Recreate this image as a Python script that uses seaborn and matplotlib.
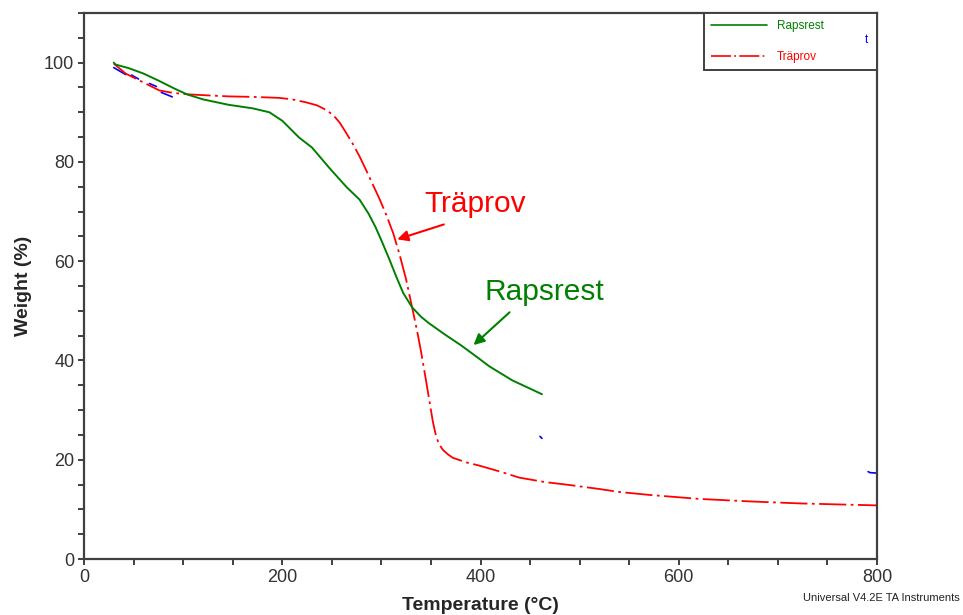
import numpy as np
import pandas as pd
import matplotlib
matplotlib.use("Agg")
import matplotlib.pyplot as plt
from matplotlib.ticker import MultipleLocator
from matplotlib.lines import Line2D
import seaborn as sns

# TGA curves: temperature (°C) vs residual weight (%)
rapsrest_temp = [30, 32, 45, 60, 75, 91, 104, 120, 146, 170, 187, 200, 207, 217, 230,
                 247, 265, 278, 287, 294, 300, 308, 315, 322, 331, 340, 348, 365, 380,
                 395, 409, 432, 447, 462]
rapsrest_weight = [100.0, 99.6, 98.9, 97.8, 96.4, 94.8, 93.6, 92.6, 91.5, 90.8, 90.0, 88.3,
                   86.9, 84.9, 82.9, 78.9, 74.9, 72.4, 69.6, 66.9, 64.2, 60.4, 56.9, 53.6,
                   50.7, 48.8, 47.5, 45.1, 43.1, 40.9, 38.8, 36.0, 34.6, 33.2]

traprov_temp = [30, 42, 60, 76, 90, 106, 125, 146, 170, 197, 210, 224, 235, 245, 252, 258,
                264, 271, 278, 284.5, 291, 298, 305, 312, 318, 325, 331, 336, 340, 345,
                349, 352, 355, 358, 362, 367, 372, 385, 399, 420, 439, 465, 490, 520,
                540, 571, 621, 672, 722, 760, 800]
traprov_weight = [99.8, 97.8, 96.0, 94.4, 93.9, 93.6, 93.4, 93.2, 93.1, 92.9, 92.6, 92.0,
                  91.4, 90.4, 89.3, 87.9, 86.0, 83.7, 81.1, 78.4, 75.6, 72.6, 69.3, 65.6,
                  61.6, 56.3, 50.7, 46.0, 41.8, 36.0, 31.2, 27.6, 24.9, 23.2, 22.0, 21.1,
                  20.4, 19.5, 18.8, 17.6, 16.4, 15.5, 14.9, 14.1, 13.5, 12.9, 12.1, 11.6,
                  11.2, 11.0, 10.8]

# third run: only short pieces of it remain visible
rest_piece = [1, 1, 2, 2, 3, 3, 4, 4, 5, 5, 6, 6, 6]
rest_temp = [30, 42, 48, 55, 66, 73, 78, 89, 460, 462, 791, 793, 800]
rest_weight = [99.0, 97.6, 97.5, 96.7, 95.8, 95.2, 94.0, 93.1, 24.7, 24.3, 17.6, 17.4, 17.3]

x_ticks = [0, 200, 400, 600, 800]
y_ticks = [0, 20, 40, 60, 80, 100]

GREEN = "#008000"
RED = "#ff0000"
BLUE = "#0000ff"
SPINE = "#404040"

sns.set_style("ticks")
plt.rcParams["font.family"] = ["Liberation Sans", "DejaVu Sans"]

fig = plt.figure(figsize=(9.63, 6.15), dpi=100)
ax = fig.add_axes([84 / 963, 56 / 615, 793 / 963, 546 / 615])

df_g = pd.DataFrame({"Temperature": rapsrest_temp, "Weight": rapsrest_weight})
df_r = pd.DataFrame({"Temperature": traprov_temp, "Weight": traprov_weight})
df_b = pd.DataFrame({"Temperature": rest_temp, "Weight": rest_weight, "piece": rest_piece})

dashdot = (0, (15, 2.5, 1.5, 2.5))
sns.lineplot(data=df_b, x="Temperature", y="Weight", units="piece", ax=ax, color=BLUE,
             lw=1.2, sort=False, estimator=None)
sns.lineplot(data=df_r, x="Temperature", y="Weight", ax=ax, color=RED, lw=1.3,
             linestyle=dashdot, sort=False, estimator=None)
sns.lineplot(data=df_g, x="Temperature", y="Weight", ax=ax, color=GREEN, lw=1.4,
             sort=False, estimator=None)

ax.set_xlim(0, 800)
ax.set_ylim(0, 110)
ax.set_xticks(x_ticks)
ax.set_yticks(y_ticks)
ax.xaxis.set_minor_locator(MultipleLocator(50))
ax.yaxis.set_minor_locator(MultipleLocator(5))
ax.tick_params(which="both", direction="out", length=4, width=1.4, color=SPINE,
               labelsize=13, labelcolor="#333333", pad=3)
for s in ax.spines.values():
    s.set_visible(True)
    s.set_color(SPINE)
    s.set_linewidth(1.6)

ax.set_xlabel("Temperature (°C)", fontsize=14, fontweight="bold", labelpad=8)
ax.set_ylabel("Weight (%)", fontsize=14, fontweight="bold", labelpad=9)

# curve labels with arrows
ax.text(343.5, 70.0, "Träprov", color=RED, fontsize=21.5, ha="left", va="baseline")
ax.annotate("", xy=(316, 64.4), xytext=(363, 67.4),
            arrowprops=dict(arrowstyle="-|>", color=RED, lw=1.5, mutation_scale=16,
                            shrinkA=0, shrinkB=0))
ax.text(404, 52.1, "Rapsrest", color=GREEN, fontsize=21.5, ha="left", va="baseline")
ax.annotate("", xy=(393, 43.1), xytext=(429.3, 49.7),
            arrowprops=dict(arrowstyle="-|>", color=GREEN, lw=1.5, mutation_scale=16,
                            shrinkA=0, shrinkB=0))

# legend in the top-right corner
handles = [Line2D([], [], color=GREEN, lw=1.2),
           Line2D([], [], color="none"),
           Line2D([], [], color=RED, lw=1.2, linestyle=(0, (12, 2, 1, 2)))]
leg = ax.legend(handles, ["Rapsrest", " ", "Träprov"], loc="upper left",
                bbox_to_anchor=(620 / 793, 1.0, 173 / 793, 0.0), mode="expand",
                borderaxespad=0, frameon=True, fancybox=False, fontsize=8.5,
                handlelength=4.7, handletextpad=0.9, labelspacing=0.3,
                borderpad=0.6, labelcolor=[GREEN, BLUE, RED])
leg.get_frame().set_edgecolor(SPINE)
leg.get_frame().set_linewidth(1.4)
leg.get_frame().set_alpha(1)
ax.text(866 / 963, 1 - 40 / 615, "t", transform=fig.transFigure, color=BLUE,
        fontsize=8.5, ha="center", va="center", zorder=10)

fig.text(960 / 963, 1 - 598 / 615, "Universal V4.2E TA Instruments", fontsize=8,
         ha="right", va="center", color="#222222")

fig.savefig("out.png", dpi=100)
